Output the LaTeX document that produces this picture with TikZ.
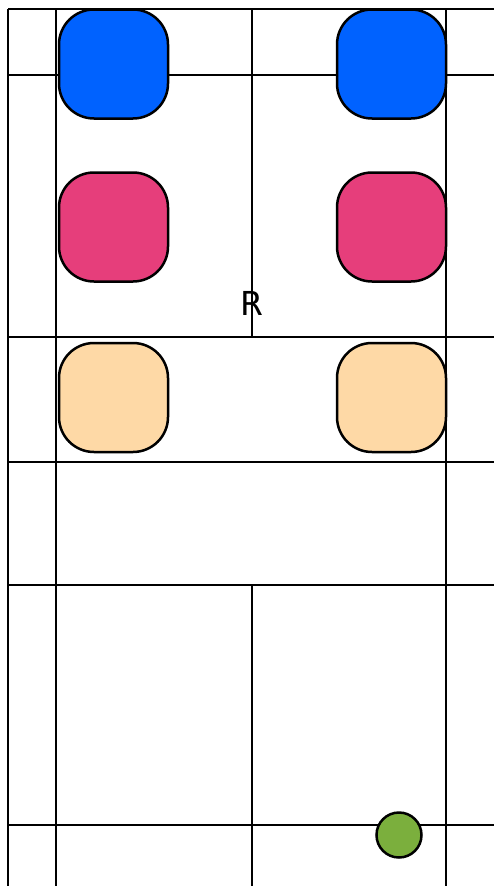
\documentclass[tikz,border=0pt]{standalone}
\usepackage{fontspec}
\setmainfont{DejaVu Sans}
\definecolor{tileblue}{RGB}{0,98,255}
\definecolor{tilepink}{RGB}{230,62,123}
\definecolor{tilesand}{RGB}{254,217,166}
\definecolor{dotgreen}{RGB}{123,175,61}
\begin{document}
\begin{tikzpicture}[
    x=1pt, y=-1pt,
    grid/.style={
        draw=black,
        line width=2.5pt
    },
    tile/.style={
        rectangle,
        rounded corners=35pt,
        draw=black,
        line width=2.5pt,
        minimum width=109pt,
        minimum height=109pt,
        inner sep=0pt
    },
    dot/.style={
        circle,
        draw=black,
        line width=2.5pt,
        fill=dotgreen,
        minimum size=45pt,
        inner sep=0pt
    }
]
    \useasboundingbox (0,0) rectangle (494,886);

    % Raster (horizontal lines)
    \draw[grid] (8,9) -- (494,9);
    \draw[grid] (8,75) -- (494,75);
    \draw[grid] (8,337) -- (494,337);
    \draw[grid] (8,462) -- (494,462);
    \draw[grid] (8,585) -- (494,585);
    \draw[grid] (8,825) -- (494,825);

    % Raster (vertical lines)
    \draw[grid] (8,9) -- (8,886);
    \draw[grid] (56,9) -- (56,886);
    \draw[grid] (252,9) -- (252,337);
    \draw[grid] (252,585) -- (252,886);
    \draw[grid] (446,9) -- (446,886);

    % Label
    \node[font=\fontsize{33}{33}\selectfont, inner sep=0pt] (rlabel) at (252,303) {R};

    % Tiles
    \node[tile, fill=tileblue] (blueL) at (113.5,64) {};
    \node[tile, fill=tileblue] (blueR) at (391.5,64) {};
    \node[tile, fill=tilepink] (pinkL) at (113.5,227) {};
    \node[tile, fill=tilepink] (pinkR) at (391.5,227) {};
    \node[tile, fill=tilesand] (sandL) at (113.5,397.5) {};
    \node[tile, fill=tilesand] (sandR) at (391.5,397.5) {};

    % Marker
    \node[dot] (marker) at (399,835) {};

\end{tikzpicture}
\end{document}
